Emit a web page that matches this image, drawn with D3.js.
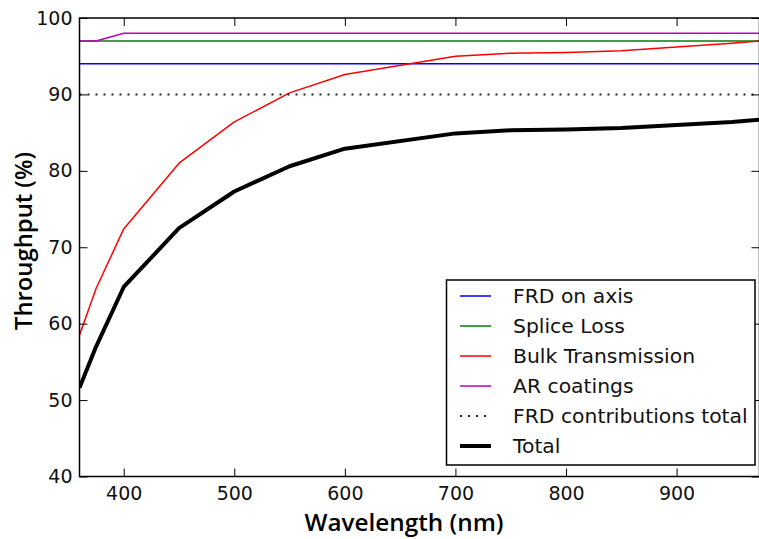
<!DOCTYPE html>
<html>
<head>
<meta charset="utf-8">
<script src="https://cdnjs.cloudflare.com/ajax/libs/d3/7.8.5/d3.min.js"></script>
<style>
body{margin:0;background:#fff;}
svg{display:block;}
</style>
</head>
<body>
<svg></svg>
<script>
// chart values
let wavelengths = [360, 375, 400, 450, 500, 550, 600, 700, 750, 800, 850, 900, 950, 975];
let frdOnAxis  = [94, 94, 94, 94, 94, 94, 94, 94, 94, 94, 94, 94, 94, 94];
let spliceLoss = [97, 97, 97, 97, 97, 97, 97, 97, 97, 97, 97, 97, 97, 97];
let bulkTrans  = [58.5, 64.6, 72.4, 81.0, 86.4, 90.2, 92.6, 95.0, 95.4, 95.5, 95.7, 96.2, 96.7, 97.0];
let arCoatings = [97, 97, 98, 98, 98, 98, 98, 98, 98, 98, 98, 98, 98, 98];
let frdTotal   = [90, 90, 90, 90, 90, 90, 90, 90, 90, 90, 90, 90, 90, 90];
let total      = [51.6, 57.0, 64.8, 72.5, 77.3, 80.6, 82.9, 84.9, 85.3, 85.4, 85.6, 86.0, 86.4, 86.7];
let xTicks = [400, 500, 600, 700, 800, 900];
let yTicks = [40, 50, 60, 70, 80, 90, 100];

const w = 759;
const h = 539;
const padL = 79.5, padR = 759.5, padT = 18, padB = 476.5;//edges of the axes box

let svg = d3.select("svg").attr("width", w).attr("height", h);

let xScale = d3.scaleLinear().domain([360, 975]).range([padL, padR]);
let yScale = d3.scaleLinear().domain([40, 100]).range([padB, padT]);

let series = [
    {name: "FRD on axis", values: frdOnAxis, color: "#0000ff", width: 1.5, dash: null},
    {name: "Splice Loss", values: spliceLoss, color: "#008000", width: 1.5, dash: null},
    {name: "Bulk Transmission", values: bulkTrans, color: "#ff0000", width: 1.5, dash: null},
    {name: "AR coatings", values: arCoatings, color: "#bf00bf", width: 1.5, dash: null},
    {name: "FRD contributions total", values: frdTotal, color: "#222", width: 2, dash: "2,6"},
    {name: "Total", values: total, color: "#000", width: 4, dash: null}
];

// clip lines to the axes box
svg.append("clipPath").attr("id", "clip")
    .append("rect").attr("x", padL).attr("y", padT).attr("width", padR - padL).attr("height", padB - padT);

let line = d3.line()
    .x((d, i) => xScale(wavelengths[i]))
    .y(d => yScale(d));

svg.append("g").attr("clip-path", "url(#clip)")
    .selectAll("path")
    .data(series)
    .enter()
    .append("path")
    .attr("d", s => line(s.values))
    .attr("fill", "none")
    .attr("stroke", s => s.color)
    .attr("stroke-width", s => s.width)
    .attr("stroke-dasharray", s => s.dash)
    .attr("stroke-linejoin", "round");

// axes, ticks point inward on all four sides
let styleAxis = (g) => {
    g.select(".domain").remove();
    g.selectAll(".tick line").attr("stroke", "#000").attr("stroke-width", 1);
    g.selectAll("text").attr("font-family", "DejaVu Sans").attr("font-size", "19px").attr("fill", "#111");
};

svg.append("g")
    .attr("transform", "translate(0," + padB + ")")
    .call(d3.axisBottom(xScale).tickValues(xTicks).tickSizeInner(-8).tickSizeOuter(0).tickPadding(10))
    .call(styleAxis);

svg.append("g")
    .attr("transform", "translate(0," + padT + ")")
    .call(d3.axisTop(xScale).tickValues(xTicks).tickSizeInner(-8).tickSizeOuter(0).tickFormat(""))
    .call(styleAxis);

svg.append("g")
    .attr("transform", "translate(" + padL + ",0)")
    .call(d3.axisLeft(yScale).tickValues(yTicks).tickSizeInner(-8).tickSizeOuter(0).tickPadding(7))
    .call(styleAxis);

svg.append("g")
    .attr("transform", "translate(" + padR + ",0)")
    .call(d3.axisRight(yScale).tickValues(yTicks).tickSizeInner(-8).tickSizeOuter(0).tickFormat(""))
    .call(styleAxis);

// frame
svg.append("rect")
    .attr("x", padL).attr("y", padT)
    .attr("width", padR - padL).attr("height", padB - padT)
    .attr("fill", "none").attr("stroke", "#000").attr("stroke-width", 1.5);

// axis titles
svg.append("text")
    .attr("x", 404).attr("y", 531)
    .attr("text-anchor", "middle")
    .attr("font-family", "Open Sans").attr("font-size", "24px").attr("font-weight", 600)
    .attr("textLength", 199).attr("lengthAdjust", "spacingAndGlyphs")
    .text("Wavelength (nm)");

svg.append("text")
    .attr("transform", "translate(32,241) rotate(-90)")
    .attr("text-anchor", "middle")
    .attr("font-family", "Open Sans").attr("font-size", "24px").attr("font-weight", 600)
    .attr("textLength", 178).attr("lengthAdjust", "spacingAndGlyphs")
    .text("Throughput (%)");

// legend
let legend = svg.append("g");
legend.append("rect")
    .attr("x", 446.5).attr("y", 280)
    .attr("width", 308.5).attr("height", 185)
    .attr("fill", "#fff").attr("stroke", "#000").attr("stroke-width", 1.5);

let rows = legend.selectAll("g.row")
    .data(series)
    .enter()
    .append("g")
    .attr("class", "row")
    .attr("transform", (s, i) => "translate(0," + (296 + i * 30) + ")");

rows.append("line")
    .attr("x1", 460).attr("x2", 491)
    .attr("stroke", s => s.color)
    .attr("stroke-width", s => s.width)
    .attr("stroke-dasharray", s => s.dash);

rows.append("text")
    .attr("x", 513).attr("dy", "0.35em")
    .attr("font-family", "DejaVu Sans").attr("font-size", "19px").attr("fill", "#111")
    .text(s => s.name)
    .each(function(){//reference text is a bit wider than plain DejaVu at this height
        let len = this.getComputedTextLength();
        d3.select(this).attr("textLength", len * 1.07).attr("lengthAdjust", "spacingAndGlyphs");
    });
</script>
</body>
</html>
